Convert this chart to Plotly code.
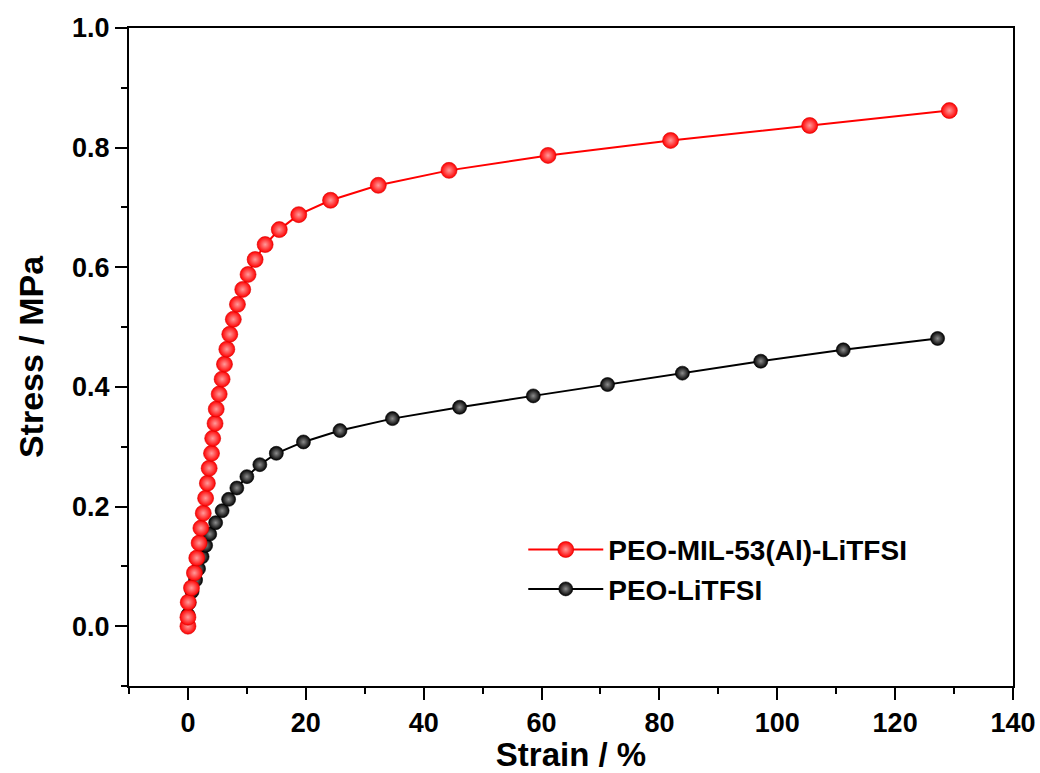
import plotly.graph_objects as go

# Stress-strain data for the two polymer electrolytes
strain_mil = [0.0, 0.0, 0.05, 0.6, 1.1, 1.5, 1.9, 2.2, 2.6, 3.0, 3.3, 3.6, 4.0, 4.2,
              4.6, 4.8, 5.3, 5.8, 6.2, 6.6, 7.1, 7.7, 8.4, 9.3, 10.2, 11.4, 13.1,
              15.5, 18.8, 24.2, 32.3, 44.3, 61.1, 81.9, 105.5, 129.2]
stress_mil = [0.0, 0.015, 0.040, 0.064, 0.089, 0.114, 0.139, 0.164, 0.189, 0.214,
              0.239, 0.264, 0.289, 0.314, 0.339, 0.363, 0.388, 0.413, 0.438, 0.463,
              0.488, 0.513, 0.538, 0.563, 0.588, 0.613, 0.638, 0.663, 0.688, 0.712,
              0.737, 0.762, 0.787, 0.812, 0.837, 0.862]

strain_peo = [0.0, 0.0, 0.2, 0.7, 1.3, 1.8, 2.4, 3.0, 3.7, 4.7, 5.8, 6.9, 8.3, 10.0,
              12.2, 15.0, 19.6, 25.8, 34.7, 46.1, 58.6, 71.2, 83.9, 97.2, 111.2, 127.2]
stress_peo = [0.0, 0.019, 0.039, 0.058, 0.077, 0.096, 0.116, 0.135, 0.154, 0.173,
              0.193, 0.212, 0.231, 0.250, 0.270, 0.289, 0.308, 0.327, 0.347, 0.366,
              0.385, 0.404, 0.423, 0.443, 0.462, 0.481]

names = ["PEO-MIL-53(Al)-LiTFSI", "PEO-LiTFSI"]

FONT = "Liberation Sans, Arial, sans-serif"

fig = go.Figure()


def add_series(x, y, name, color, center, edge, size):
    # shaded ball markers joined by a line
    fig.add_trace(go.Scatter(
        x=x, y=y, name=f"<b>{name}</b>", mode="lines+markers",
        line=dict(color=color, width=2),
        marker=dict(size=size, color=color, symbol="circle",
                    gradient=dict(type="radial", color=center),
                    line=dict(width=0.6, color=edge)),
    ))


add_series(strain_peo, stress_peo, names[1], "#000000", "#8c8c8c", "#000000", 14)
add_series(strain_mil, stress_mil, names[0], "#ff0000", "#ff9a9a", "#d80000", 16)

axis_common = dict(
    showline=True, linecolor="black", linewidth=2, mirror=True,
    ticks="outside", ticklen=12, tickwidth=2, tickcolor="black",
    showgrid=False, zeroline=False, automargin=False,
    tickfont=dict(family=FONT, size=27, color="black"),
    tickprefix="<b>", ticksuffix="</b>",
)

fig.update_xaxes(
    range=[-10, 140], tick0=0, dtick=20,
    minor=dict(ticks="outside", ticklen=6, tickwidth=2, tickcolor="black", dtick=10, tick0=0),
    title=dict(text="<b>Strain / %</b>", font=dict(family=FONT, size=33, color="black"), standoff=6),
    **axis_common,
)
fig.update_yaxes(
    range=[-0.1, 1.0], tick0=0, dtick=0.2, tickformat=".1f",
    minor=dict(ticks="outside", ticklen=6, tickwidth=2, tickcolor="black", dtick=0.1, tick0=0),
    title=dict(text="<b>Stress / MPa</b>", font=dict(family=FONT, size=34, color="black"), standoff=18),
    **axis_common,
)

fig.update_layout(
    width=1040, height=773,
    margin=dict(l=129, r=27, t=28, b=87),
    paper_bgcolor="white", plot_bgcolor="white",
    legend=dict(
        x=0.446, y=0.245, xanchor="left", yanchor="top",
        traceorder="reversed",
        font=dict(family=FONT, size=28, color="black"),
        bgcolor="rgba(0,0,0,0)", itemwidth=75, tracegroupgap=0,
    ),
    showlegend=True,
)

fig.write_html("out.html")
